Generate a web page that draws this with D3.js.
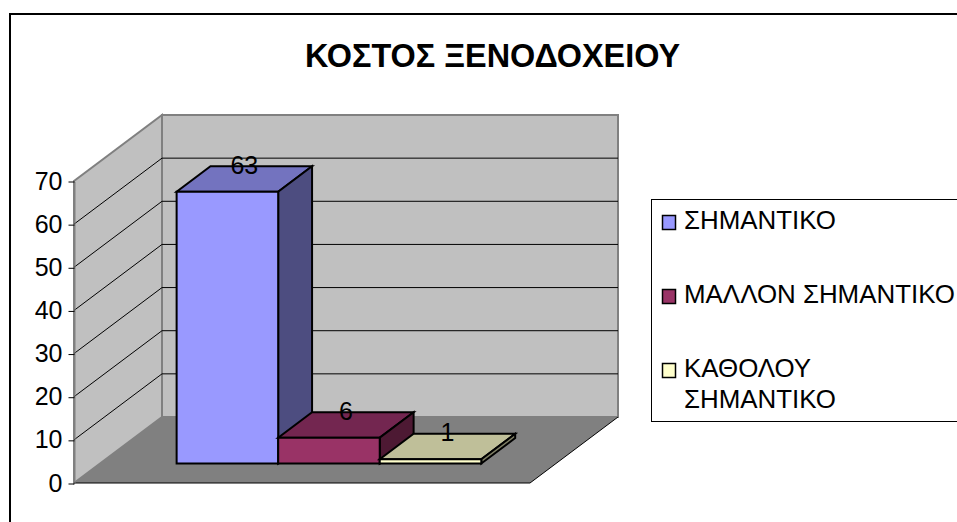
<!DOCTYPE html>
<html><head><meta charset="utf-8">
<script src="https://cdn.jsdelivr.net/npm/d3@7"></script>
<style>html,body{margin:0;background:#fff}svg{display:block}text{font-family:"Liberation Sans",Arial,sans-serif;fill:#000}</style>
</head><body><script>
const title = "ΚΟΣΤΟΣ ΞΕΝΟΔΟΧΕΙΟΥ";
const categories = ["ΣΗΜΑΝΤΙΚΟ","ΜΑΛΛΟΝ ΣΗΜΑΝΤΙΚΟ","ΚΑΘΟΛΟΥ ΣΗΜΑΝΤΙΚΟ"];
const values = [63,6,1];
const ticks = [0,10,20,30,40,50,60,70];
const legendLines = [["ΣΗΜΑΝΤΙΚΟ"],["ΜΑΛΛΟΝ ΣΗΜΑΝΤΙΚΟ"],["ΚΑΘΟΛΟΥ","ΣΗΜΑΝΤΙΚΟ"]];
const frontColors = ["#9999FF","#993366","#FFFFCC"];
const topColors = ["#7373BF","#732650","#BFBF99"];
const sideColors = ["#4D4D80","#4D1933","#808066"];

const svg = d3.select("body").append("svg").attr("width",957).attr("height",522);
const y = d3.scaleLinear().domain([0,70]).range([483,181]);
const x = d3.scaleBand().domain(categories).range([75,531]).paddingInner(0).paddingOuter(0.745);
const dx = d3.scaleLinear().domain([0,1]).range([0,88]);
const dy = d3.scaleLinear().domain([0,1]).range([0,-66]);
const P = (px,v,d)=>[px+dx(d), y(v)+dy(d)];
const poly = pts=>d3.line()(pts)+"Z";

// outer frame
svg.append("rect").attr("x",10).attr("y",14).attr("width",960).attr("height",530)
  .attr("fill","#fff").attr("stroke","#000").attr("stroke-width",2);

const xl=74, xr=530, vmax=70;
// walls and floor
svg.append("path").attr("d",poly([P(xl,0,1),P(xr,0,1),P(xr,vmax,1),P(xl,vmax,1)])).attr("fill","#C0C0C0").attr("stroke","#808080").attr("stroke-width",2);
svg.append("path").attr("d",poly([P(xl,0,0),P(xl,0,1),P(xl,vmax,1),P(xl,vmax,0)])).attr("fill","#C0C0C0").attr("stroke","#808080").attr("stroke-width",2);
svg.append("path").attr("d",poly([P(xl,0,0),P(xr,0,0),P(xr,0,1),P(xl,0,1)])).attr("fill","#808080");
svg.append("path").attr("d",d3.line()([P(xl,0,0),P(xr,0,0),P(xr,0,1)])).attr("fill","none").attr("stroke","#000").attr("stroke-width",1);
// gridlines
svg.append("g").selectAll("path").data(ticks.filter(t=>t>0&&t<70)).join("path")
  .attr("d",t=>d3.line()([P(xl,t,0),P(xl,t,1),P(xr,t,1)])).attr("fill","none").attr("stroke","#000").attr("stroke-width",1);
// value axis
const axis = d3.axisLeft(y).tickValues(ticks).tickSize(6).tickPadding(5).tickSizeOuter(0);
const ag = svg.append("g").attr("transform","translate(74.5,0.5)").call(axis);
ag.selectAll("text").attr("font-size",25).attr("dx",-1).attr("dy","0.3em").attr("font-family",'"Liberation Sans",Arial,sans-serif').attr("fill","#000");
ag.selectAll("line").attr("stroke","#000");
ag.select("path.domain").attr("stroke","#808080");
// bars
const d0=0.295, d1=0.68;
const bars = svg.append("g").selectAll("g").data(categories.map((c,i)=>({c,i,v:values[i]}))).join("g");
const edge = s=>s.attr("stroke","#000").attr("stroke-width",2).attr("stroke-linejoin","miter");
bars.append("path").attr("d",d=>{const a=x(d.c),b=a+x.bandwidth();return poly([P(a,d.v,d0),P(b,d.v,d0),P(b,d.v,d1),P(a,d.v,d1)])}).attr("fill",d=>topColors[d.i]).call(edge);
bars.append("path").attr("d",d=>{const b=x(d.c)+x.bandwidth();return poly([P(b,0,d0),P(b,0,d1),P(b,d.v,d1),P(b,d.v,d0)])}).attr("fill",d=>sideColors[d.i]).call(edge);
bars.append("path").attr("d",d=>{const a=x(d.c),b=a+x.bandwidth();return poly([P(a,0,d0),P(b,0,d0),P(b,d.v,d0),P(a,d.v,d0)])}).attr("fill",d=>frontColors[d.i]).call(edge);
// data labels
bars.append("text").text(d=>d.v).attr("font-size",25).attr("text-anchor","middle")
  .attr("x",d=>P(x(d.c)+x.bandwidth()/2,d.v,(d0+d1)/2)[0]).attr("y",d=>P(0,d.v,d1)[1]+7.5);
// title
svg.append("text").text(title).attr("x",492.5).attr("y",67).attr("text-anchor","middle").attr("font-size",32.4).attr("font-weight","bold");
// legend
svg.append("rect").attr("x",651.5).attr("y",199.5).attr("width",320).attr("height",222).attr("fill","#fff").attr("stroke","#000").attr("stroke-width",1);
const rowY=[229,303,377];
const lg = svg.append("g").selectAll("g").data(legendLines).join("g");
lg.append("rect").attr("x",662.5).attr("y",(d,i)=>rowY[i]-13.5).attr("width",13).attr("height",14).attr("fill",(d,i)=>frontColors[i]).attr("stroke","#000").attr("stroke-width",1.5);
lg.each(function(lines,i){d3.select(this).selectAll("text").data(lines).join("text").text(t=>t).attr("x",684).attr("y",(t,j)=>rowY[i]+j*31).attr("font-size",25.9);});
</script></body></html>
